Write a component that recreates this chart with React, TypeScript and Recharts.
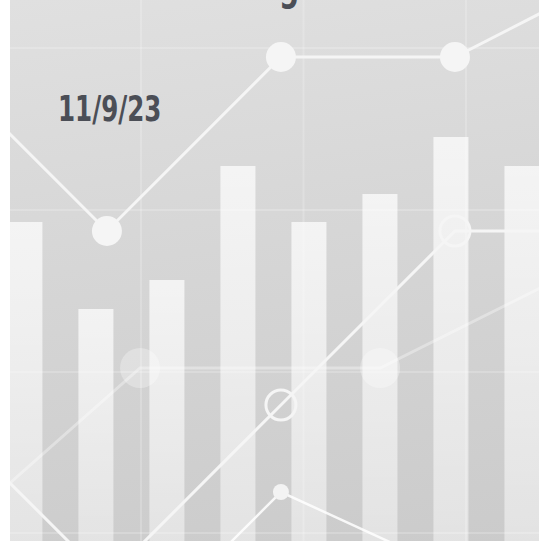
import { ComposedChart, Bar, Line, XAxis, YAxis, CartesianGrid } from 'recharts';

// bar chart layer (slot index -> height in chart units, 1 unit ~ 1px)
const barSlots = [0, 1, 2, 3, 4, 5, 6, 7];
const barHeights = [319, 232, 261, 375, 319, 347, 404, 375];

// bright line layer, shared slots
const lineSlots = [-1, 0, 1, 2, 3];
const upperLine = [484, 310, 484, 484, 573];
const middleLine = [-212, -38, 136, 310, 310];
const lowerLine = [-299, -125, 49, -31, -111];
const edgeLine = [135, -39, null, null, null];

// faded background line
const fadedSlots = [-1, 0, 1, 2];
const fadedLine = [-39, 173, 173, 293];

const dateLabel = '11/9/23';
// only the descender of the cut-off title shows at the top edge
const titleTail = 'g';

const W = 529;
const H = 541;

const barData = barSlots.map((slot, i) => ({ slot, h: barHeights[i] }));
const toSeries = (slots: number[], vals: (number | null)[]) =>
  slots.map((slot, i) => ({ slot, v: vals[i] }));

const lineStroke = '#f5f5f5';
const labelFont = '"DejaVu Sans Condensed", "DejaVu Sans", sans-serif';

export default function App() {
  return (
    <div
      style={{
        position: 'absolute',
        left: 10,
        top: 0,
        width: W,
        height: H,
        overflow: 'hidden',
        background: 'linear-gradient(172deg, #e0e0e0 0%, #d6d6d6 45%, #cbcbcb 100%)',
      }}
    >
      <ComposedChart width={W} height={H} data={barData} margin={{ top: 0, right: 0, bottom: 0, left: 0 }}>
        <defs>
          <linearGradient id="barFill" x1="0" y1="0" x2="0" y2="1">
            <stop offset="0%" stopColor="#ffffff" stopOpacity={0.72} />
            <stop offset="100%" stopColor="#ffffff" stopOpacity={0.45} />
          </linearGradient>
        </defs>
        <XAxis xAxisId="bars" dataKey="slot" type="number" domain={[-0.21, 7.24]} allowDataOverflow hide />
        <XAxis xAxisId="lines" dataKey="slot" type="number" domain={[-0.557, 2.483]} allowDataOverflow hide />
        <XAxis xAxisId="faded" dataKey="slot" type="number" domain={[-0.542, 1.662]} allowDataOverflow hide />
        <YAxis type="number" domain={[0, H]} allowDataOverflow hide />
        <CartesianGrid
          xAxisId="bars"
          stroke="rgba(255,255,255,0.2)"
          strokeWidth={2}
          verticalPoints={[131, 293.5, 456]}
          horizontalPoints={[48, 210, 372, 533]}
        />
        <Bar xAxisId="bars" dataKey="h" barSize={35} fill="url(#barFill)" isAnimationActive={false} />
        <Line
          xAxisId="faded"
          data={toSeries(fadedSlots, fadedLine)}
          dataKey="v"
          type="linear"
          stroke="rgba(255,255,255,0.35)"
          strokeWidth={3}
          dot={{ r: 20, fill: 'rgba(255,255,255,0.3)', stroke: 'none' }}
          isAnimationActive={false}
        />
        <Line
          xAxisId="lines"
          data={toSeries(lineSlots, edgeLine)}
          dataKey="v"
          type="linear"
          stroke={lineStroke}
          strokeWidth={3}
          dot={false}
          isAnimationActive={false}
        />
        <Line
          xAxisId="lines"
          data={toSeries(lineSlots, lowerLine)}
          dataKey="v"
          type="linear"
          stroke="rgba(255,255,255,0.85)"
          strokeWidth={2.5}
          dot={{ r: 8, fill: '#f3f3f3', stroke: 'none' }}
          isAnimationActive={false}
        />
        <Line
          xAxisId="lines"
          data={toSeries(lineSlots, middleLine)}
          dataKey="v"
          type="linear"
          stroke={lineStroke}
          strokeWidth={3}
          dot={{ r: 15, fill: 'none', stroke: lineStroke, strokeWidth: 3 }}
          isAnimationActive={false}
        />
        <Line
          xAxisId="lines"
          data={toSeries(lineSlots, upperLine)}
          dataKey="v"
          type="linear"
          stroke={lineStroke}
          strokeWidth={3}
          dot={{ r: 15, fill: lineStroke, stroke: 'none' }}
          isAnimationActive={false}
        />
      </ComposedChart>
      <div
        style={{
          position: 'absolute',
          left: 269,
          top: -34,
          fontFamily: labelFont,
          fontWeight: 700,
          fontSize: 40,
          lineHeight: '40px',
          color: '#4b4e56',
          transform: 'scaleX(0.78)',
          transformOrigin: 'left top',
        }}
      >
        {titleTail}
      </div>
      <div
        style={{
          position: 'absolute',
          left: 48,
          top: 92,
          fontFamily: labelFont,
          fontWeight: 700,
          fontSize: 35,
          lineHeight: '35px',
          color: '#4b4e56',
          whiteSpace: 'nowrap',
          transform: 'scaleX(0.78)',
          transformOrigin: 'left top',
        }}
      >
        {dateLabel}
      </div>
    </div>
  );
}
